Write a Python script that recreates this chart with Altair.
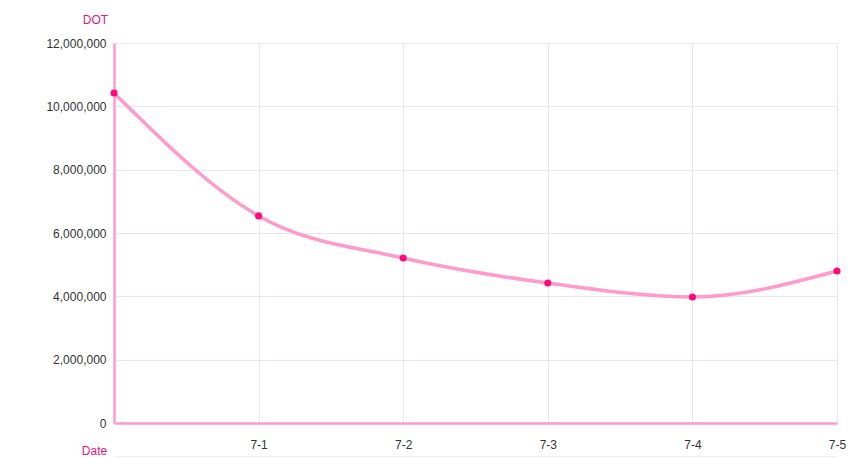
import altair as alt
import pandas as pd

dates = ["", "7-1", "7-2", "7-3", "7-4", "7-5"]
dot_values = [10420000, 6540000, 5210000, 4420000, 3980000, 4800000]

df = pd.DataFrame({"Date": dates, "DOT": dot_values, "order": list(range(len(dates)))})

FONT = "Liberation Sans"
PINK_LINE = "#ff9acb"
PINK_POINT = "#ff0a78"
PINK_TEXT = "#e8157b"
GRID = "#e6e6f4"

x = alt.X(
    "Date:N",
    sort=dates,
    scale=alt.Scale(type="point", padding=0),
    axis=alt.Axis(
        title="Date",
        titleColor=PINK_TEXT,
        titleFontWeight="normal",
        titleFontSize=12,
        titleFont=FONT,
        titleX=-20,
        titleY=27,
        titleAlign="center",
        titleBaseline="middle",
        labelAngle=0,
        labelFont=FONT,
        labelFontSize=12,
        labelColor="#333333",
        labelPadding=16,
        ticks=False,
        grid=True,
        gridColor=GRID,
        gridWidth=1,
        domainColor=PINK_LINE,
        domainWidth=2.5,
    ),
)

y = alt.Y(
    "DOT:Q",
    scale=alt.Scale(domain=[0, 12000000], nice=False),
    axis=alt.Axis(
        title="DOT",
        titleColor=PINK_TEXT,
        titleFontWeight="normal",
        titleFontSize=12,
        titleFont=FONT,
        titleAngle=0,
        titleX=-19,
        titleY=-24,
        titleAlign="center",
        titleBaseline="middle",
        values=[0, 2000000, 4000000, 6000000, 8000000, 10000000, 12000000],
        format=",d",
        labelFont=FONT,
        labelFontSize=12,
        labelColor="#333333",
        labelPadding=8,
        ticks=False,
        grid=True,
        gridColor=GRID,
        gridWidth=1,
        domainColor=PINK_LINE,
        domainWidth=2.5,
    ),
)

base = alt.Chart(df)

line = base.mark_line(
    color=PINK_LINE, strokeWidth=3.5, interpolate="monotone"
).encode(x=x, y=y, order="order:Q")

points = base.mark_circle(color=PINK_POINT, opacity=1, size=50).encode(x=x, y=y)

bottom = alt.Chart(pd.DataFrame({"v": [0]})).mark_rule(
    color="#dddddd", strokeWidth=1
).encode(x=alt.value(0), x2=alt.value(723), y=alt.value(414))

chart = (
    alt.layer(line, points, bottom)
    .properties(
        width=723,
        height=380,
        autosize=alt.AutoSizeParams(type="none"),
        padding={"left": 106, "top": 35, "right": 21, "bottom": 34},
    )
    .configure_view(stroke=None)
    .configure(font=FONT)
)

chart.save("out.html", embed_options={"renderer": "svg", "actions": False})
